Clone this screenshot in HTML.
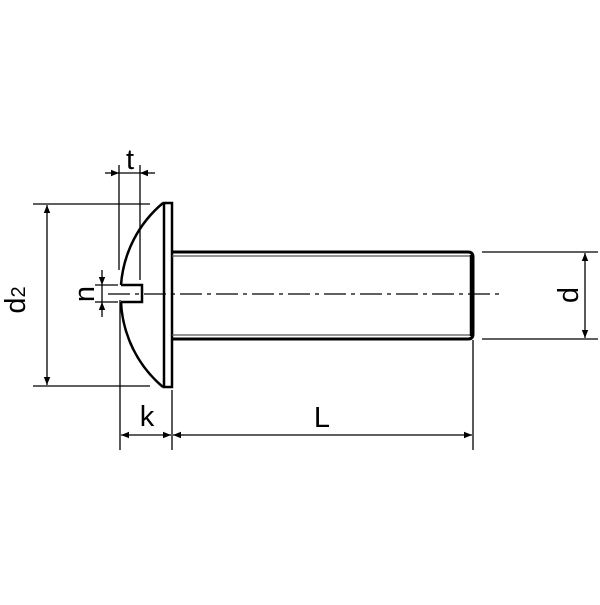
<!DOCTYPE html>
<html><head><meta charset="utf-8"><style>html,body{margin:0;padding:0;background:#fff}</style></head>
<body>
<svg width="600" height="600" viewBox="0 0 600 600" xmlns="http://www.w3.org/2000/svg">
<defs>
<marker id="a" viewBox="0 0 10 10" refX="10" refY="5" markerWidth="10" markerHeight="8" markerUnits="userSpaceOnUse" orient="auto"><path d="M0,1 L10,5 L0,9 Z" fill="#000"/></marker>
</defs>
<g stroke="#000" fill="none">
<!-- head -->
<path d="M163,203 A118,118 0 0 0 121,285 M121,302 A118,118 0 0 0 163,387" stroke-width="2.5"/>
<rect x="164" y="203" width="8" height="184" stroke-width="2.5"/>
<!-- slot -->
<path d="M121,285 H142 V302 H121" stroke-width="2.5"/>
<!-- shank -->
<path d="M172,252 H468 Q473,252 473,257 V334 Q473,339 468,339 H172" stroke-width="3"/>
<line x1="172" y1="256" x2="470" y2="256" stroke-width="1.2" stroke="#555"/>
<line x1="172" y1="335" x2="470" y2="335" stroke-width="1.2" stroke="#555"/>
<line x1="471" y1="255" x2="471" y2="336" stroke-width="2.5"/>
<!-- centerline -->
<line x1="108" y1="294" x2="502" y2="294" stroke-width="1.2" stroke-dasharray="22,5,4,5"/>
<g stroke-width="1.3">
<line x1="33" y1="204" x2="150" y2="204"/>
<line x1="33" y1="386" x2="150" y2="386"/>
<line x1="47" y1="240" x2="47" y2="205" marker-end="url(#a)"/>
<line x1="47" y1="240" x2="47" y2="385" marker-end="url(#a)"/>
<line x1="119" y1="165" x2="119" y2="270"/>
<line x1="140" y1="165" x2="140" y2="280"/>
<line x1="105" y1="173" x2="119" y2="173" marker-end="url(#a)"/>
<line x1="155" y1="173" x2="140" y2="173" marker-end="url(#a)"/>
<line x1="119" y1="173" x2="140" y2="173"/>
<line x1="95" y1="285" x2="118" y2="285"/>
<line x1="95" y1="302" x2="118" y2="302"/>
<line x1="102" y1="270" x2="102" y2="285" marker-end="url(#a)"/>
<line x1="102" y1="317" x2="102" y2="302" marker-end="url(#a)"/>
<line x1="102" y1="285" x2="102" y2="302"/>
<line x1="120" y1="300" x2="120" y2="450"/>
<line x1="172" y1="390" x2="172" y2="450"/>
<line x1="473" y1="340" x2="473" y2="450"/>
<line x1="146" y1="435" x2="121" y2="435" marker-end="url(#a)"/>
<line x1="146" y1="435" x2="171" y2="435" marker-end="url(#a)"/>
<line x1="185" y1="435" x2="173" y2="435" marker-end="url(#a)"/>
<line x1="185" y1="435" x2="472" y2="435" marker-end="url(#a)"/>
<line x1="482" y1="252" x2="598" y2="252"/>
<line x1="482" y1="339" x2="598" y2="339"/>
<line x1="585" y1="295" x2="585" y2="253" marker-end="url(#a)"/>
<line x1="585" y1="295" x2="585" y2="338" marker-end="url(#a)"/>
</g>
</g>
<g font-family="Liberation Sans, sans-serif" font-size="29" fill="#000">
<text x="130" y="169" text-anchor="middle">t</text>
<text x="147" y="426" text-anchor="middle">k</text>
<text x="322" y="427" text-anchor="middle">L</text>
<text transform="translate(578,295) rotate(-90)" text-anchor="middle">d</text>
<text transform="translate(94,294) rotate(-90)" text-anchor="middle">n</text>
<text transform="translate(25,300) rotate(-90)" text-anchor="middle">d<tspan font-size="20">2</tspan></text>
</g>
</svg>
</body></html>
